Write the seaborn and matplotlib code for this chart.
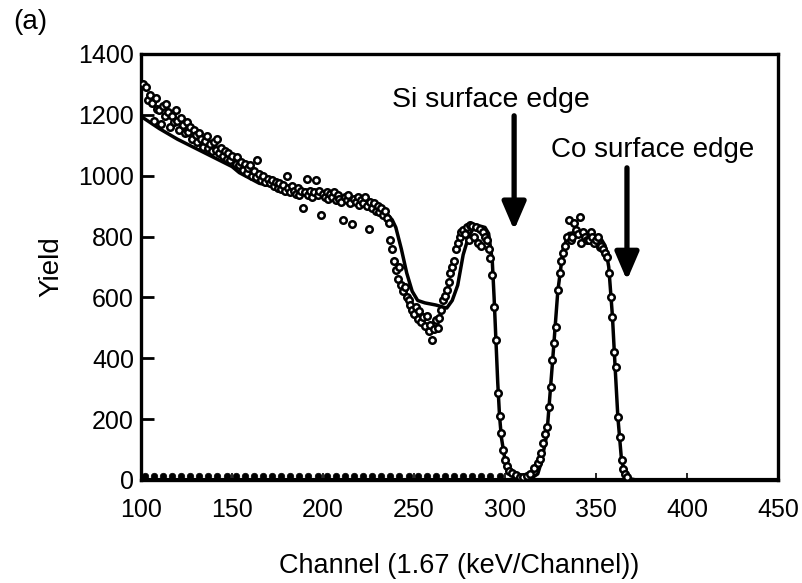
import matplotlib
matplotlib.use("Agg")
import matplotlib.pyplot as plt
import seaborn as sns
import pandas as pd

# Measured spectrum (open circles)
meas_ch = [101,103,104,105,106,107,108,109,110,111,112,113,114,115,116,117,118,119,120,121,122,123,124,125,126,127,128,129,130,
           131,132,133,134,135,136,137,138,139,140,141,142,143,144,145,146,147,148,149,150,152,153,154,155,156,157,158,159,160,
           161,162,163,164,165,166,167,168,170,171,172,173,174,175,176,177,178,179,180,181,182,183,184,185,186,187,188,189,190,
           191,192,193,194,195,196,197,198,199,200,201,202,203,204,205,206,207,208,209,210,211,212,213,214,215,216,217,218,219,
           220,221,222,223,224,225,226,227,228,229,230,231,232,233,234,235,236,237,238,239,240,241,242,243,244,245,246,247,
           248,249,250,251,252,253,254,255,256,257,258,259,260,261,262,263,264,265,266,267,268,269,270,271,272,273,274,275,
           276,277,278,279,280,281,282,283,284,285,286,287,288,289,290,291,292,293,294,295,296,297,298,299,300,301,302,304,
           306,308,310,312,314,316,318,319,320,321,322,323,324,325,326,327,328,329,330,331,332,333,334,335,336,337,338,339,
           340,341,342,343,344,345,346,347,348,349,350,351,352,353,354,355,356,357,358,359,360,361,362,363,364,365,366,367]
meas_y = [1300,1290,1250,1265,1240,1180,1255,1220,1215,1170,1230,1195,1235,1210,1160,1195,1175,1215,1180,1150,1190,1165,1140,1175,1145,1160,1120,1150,1135,
          1110,1140,1120,1095,1115,1130,1090,1105,1080,1110,1085,1120,1075,1090,1065,1080,1055,1075,1050,1065,1040,1060,1035,1045,1020,1040,1010,1025,1035,
          1000,1015,995,1050,1005,985,1000,980,990,975,985,965,980,960,975,955,970,950,1000,960,945,965,950,940,960,935,950,895,945,
          990,935,950,930,945,985,935,950,870,940,930,945,925,940,930,945,920,935,925,915,855,930,920,935,910,840,925,915,930,
          905,920,910,930,900,825,915,895,910,885,900,880,895,870,885,860,845,790,760,720,690,660,700,640,620,635,600,590,
          575,560,545,570,530,555,520,536,505,540,490,510,460,495,525,500,532,560,590,605,624,650,680,700,720,760,778,800,
          815,822,810,830,790,838,835,800,830,780,825,770,815,800,790,760,730,674,570,460,286,210,154,100,66,45,30,23,
          15,10,10,12,20,40,56,70,89,120,150,174,240,306,394,450,503,624,680,720,746,770,800,854,790,800,843,822,
          810,865,778,815,800,790,789,815,800,780,790,800,766,770,760,745,733,680,600,536,420,371,207,140,66,35,20,10]

# Simulated spectrum (solid line)
sim_ch = [100,105,110,120,130,140,150,154,165,180,195,205,220,230,235,238,240,243,246,249,252,256,262,268,271,274,277,280,283,286,
          289,291,293,294,295,296,297,298,300,302,305,310,315,318,320,323,326,329,332,335,340,345,350,353,355,357,359,360.5,362,364,
          366,368,372,380,450]
sim_y = [1195,1175,1155,1120,1090,1060,1030,1010,975,955,940,930,910,890,875,855,830,760,680,620,590,582,575,565,590,640,740,800,830,835,
         830,810,720,600,460,320,210,140,65,30,12,5,8,20,60,150,380,620,760,810,815,810,800,790,770,700,540,370,207,66,
         20,5,0,0,0]

# Near-zero spectrum (small dots)
zero_ch = [102,107,112,117,122,127,132,137,142,147,152,157,162,167,172,177,182,187,192,197,202,207,212,217,222,227,232,237,
           242,247,252,257,262,267,272,277,282,287,292,297]
zero_y = [14,12,13,14,12,14,13,12,14,13,12,14,13,14,12,13,14,12,13,14,12,13,14,12,13,14,12,13,
          14,12,13,14,12,13,14,12,13,14,12,13]

x_ticks = [100,150,200,250,300,350,400,450]
y_ticks = [0,200,400,600,800,1000,1200,1400]

sns.set_theme(style="ticks")
plt.rcParams['font.family'] = ['Liberation Sans', 'DejaVu Sans']

fig = plt.figure(figsize=(8.03, 5.83), dpi=100)
ax = fig.add_axes([0.1756, 0.1767, 0.7933, 0.7307])

sim_df = pd.DataFrame({"ch": sim_ch, "y": sim_y})
meas_df = pd.DataFrame({"ch": meas_ch, "y": meas_y})
zero_df = pd.DataFrame({"ch": zero_ch, "y": zero_y})

ax.axhline(0, color="black", lw=3, zorder=1)
sns.lineplot(data=sim_df, x="ch", y="y", ax=ax, color="black", lw=2.5, sort=False, zorder=3)
sns.scatterplot(data=meas_df, x="ch", y="y", ax=ax, marker="o", s=22, facecolor="white",
                edgecolor="black", linewidth=1.8, zorder=4)
sns.scatterplot(data=zero_df, x="ch", y="y", ax=ax, marker="o", s=22, color="black",
                edgecolor="black", linewidth=0.5, zorder=4)

ax.set_xlim(100, 450)
ax.set_ylim(0, 1400)
ax.set_xticks(x_ticks)
ax.set_yticks(y_ticks)
ax.tick_params(axis="both", direction="in", labelsize=18, color="black", labelcolor="black")
ax.tick_params(axis="y", length=9, width=2, pad=5)
ax.tick_params(axis="x", length=5, width=1.2, pad=13)
for s in ax.spines.values():
    s.set_linewidth(2.4)
    s.set_color("black")

ax.set_xlabel("Channel (1.67 (keV/Channel))", fontsize=19.5, labelpad=22, color="black")
ax.set_ylabel("Yield", fontsize=20, labelpad=10, color="black")

ax.annotate("", xy=(305, 812), xytext=(305, 1206),
            arrowprops=dict(arrowstyle="-|>,head_width=0.6,head_length=1.4", lw=3.8, color="black"))
ax.annotate("", xy=(367, 647), xytext=(367, 1035),
            arrowprops=dict(arrowstyle="-|>,head_width=0.6,head_length=1.4", lw=3.8, color="black"))
ax.text(292, 1249, "Si surface edge", fontsize=20.5, ha="center", va="center", color="black")
ax.text(381, 1084, "Co surface edge", fontsize=20, ha="center", va="center", color="black")

fig.text(0.017, 0.962, "(a)", fontsize=20, ha="left", va="center", color="black")

fig.savefig("out.png", dpi=100, facecolor="white")
